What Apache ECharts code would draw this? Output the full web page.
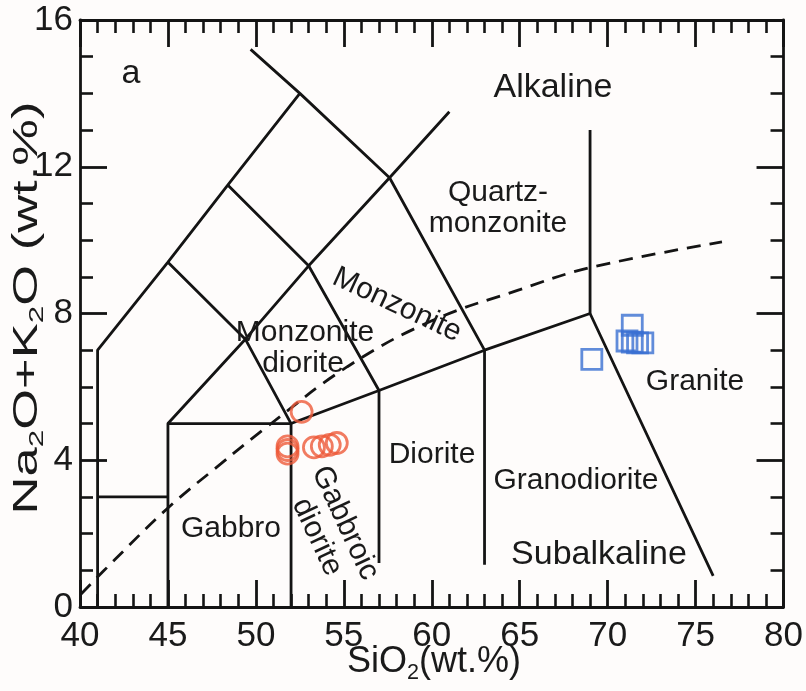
<!DOCTYPE html>
<html>
<head>
<meta charset="utf-8">
<script src="https://cdn.jsdelivr.net/npm/echarts@6/dist/echarts.min.js"></script>
<style>
  html, body { margin: 0; padding: 0; background: #fefcfb; }
  #chart { width: 806px; height: 691px; }
</style>
</head>
<body>
<div id="chart"></div>
<script>
// Axis ranges and ticks
const xRange = [40, 80];
const yRange = [0, 16];
const xStep = 5;
const yStep = 4;

// Field boundaries of the plutonic TAS diagram, as [SiO2, Na2O+K2O] polylines
const edgeFoid = [[41, 0], [41, 7], [45, 9.4], [48.4, 11.5], [52.5, 14]];
const edgeSyenite = [[49.7, 15.2], [52.5, 14], [57.6, 11.7], [63, 7], [63, 1.15]];
const edgeMonzo = [[45, 0], [45, 5], [49.4, 7.3], [53, 9.3], [57.6, 11.7], [61, 13.5]];
const edgeGabbroDiorite = [[45, 9.4], [49.4, 7.3], [52, 5], [52, 0]];
const edgeMonzodiorite = [[48.4, 11.5], [53, 9.3], [57, 5.9], [57, 1.2]];
const edgePeridot = [[41, 3], [45, 3]];
const edgeSubalkaline = [[45, 5], [52, 5], [57, 5.9], [63, 7], [69, 8], [76, 0.85]];
const edgeGranite = [[69, 8], [69, 13]];

// Alkaline / subalkaline divide
const alkalineDivide = [[40.05, 0.35], [42, 1.3], [45, 2.7], [48, 3.9], [50.6, 4.9],
  [55.2, 6.55], [60, 7.8], [65, 8.65], [69, 9.25], [76.5, 9.95]];

// Samples
const gabbroicSamples = [[52.6, 5.32], [51.8, 4.38], [51.8, 4.28], [51.8, 4.18],
  [53.3, 4.35], [53.75, 4.38], [54.2, 4.42], [54.6, 4.47]];
const graniteSamples = [[69.1, 6.75], [71.4, 7.68], [71.1, 7.25], [71.4, 7.22],
  [71.7, 7.2], [72.0, 7.2]];

const INK = '#141414';
const FONT = '"Liberation Sans", Arial, sans-serif';

const chart = echarts.init(document.getElementById('chart'));

function boundary(data, extra) {
  return Object.assign({
    type: 'line', data: data, symbol: 'none', showSymbol: false, silent: true,
    lineStyle: { color: INK, width: 2.8 }, z: 2
  }, extra || {});
}

function axis(pos, range, step, minorSplit, labels, margin) {
  return {
    type: 'value', position: pos, min: range[0], max: range[1], interval: step,
    axisLine: { show: true, onZero: false, lineStyle: { color: INK, width: 2.8 } },
    axisTick: { show: true, inside: true, length: 27, lineStyle: { color: INK, width: 2.8 } },
    minorTick: { show: true, splitNumber: minorSplit, length: 13, lineStyle: { color: INK, width: 2.6 } },
    splitLine: { show: false },
    minorSplitLine: { show: false },
    axisLabel: { show: labels, fontSize: 35, fontFamily: FONT, color: '#1a1a1a', margin: margin }
  };
}

function label(text, x, y, size, rot, sx) {
  return {
    type: 'text', x: x, y: y, rotation: (rot || 0) * Math.PI / 180, scaleX: sx || 1,
    style: { text: text, font: size + 'px ' + FONT, fill: '#1a1a1a', align: 'center', verticalAlign: 'middle' },
    z: 10
  };
}

function subText(text, x, y, size, rot, sx) {
  return {
    type: 'text', x: x, y: y, rotation: (rot || 0) * Math.PI / 180, scaleX: sx || 1,
    style: {
      text: text, align: 'center', verticalAlign: 'middle', fill: '#1a1a1a',
      font: size + 'px ' + FONT,
      rich: {
        a: { fontSize: size, fontFamily: FONT, fill: '#1a1a1a', lineHeight: size * 1.2 },
        s: { fontSize: size * 0.6, fontFamily: FONT, fill: '#1a1a1a', lineHeight: size * 0.7, verticalAlign: 'bottom' }
      }
    },
    z: 10
  };
}

chart.setOption({
  animation: false,
  backgroundColor: '#fefcfb',
  grid: { left: 80, right: 22, top: 20, bottom: 84, containLabel: false },
  xAxis: [
    axis('bottom', xRange, xStep, 5, true, 12),
    axis('top', xRange, xStep, 5, false, 8)
  ],
  yAxis: [
    axis('left', yRange, yStep, 4, true, 7),
    axis('right', yRange, yStep, 4, false, 8)
  ],
  series: [
    boundary(edgeFoid),
    boundary(edgeSyenite),
    boundary(edgeMonzo),
    boundary(edgeGabbroDiorite),
    boundary(edgeMonzodiorite),
    boundary(edgePeridot),
    boundary(edgeSubalkaline),
    boundary(edgeGranite),
    boundary(alkalineDivide, { smooth: 0.4, lineStyle: { color: INK, width: 2.8, type: [14, 9] } }),
    {
      type: 'scatter', data: gabbroicSamples, symbol: 'circle', symbolSize: 21, z: 5,
      itemStyle: { color: 'rgba(0,0,0,0)', borderColor: '#ee5a3a', borderWidth: 2.8 }
    },
    {
      type: 'scatter', data: graniteSamples, symbol: 'rect', symbolSize: 20, z: 5,
      itemStyle: { color: 'rgba(0,0,0,0)', borderColor: '#3a6fd2', borderWidth: 2.8 }
    }
  ],
  graphic: [
    label('a', 131, 74, 34),
    label('Alkaline', 553, 88, 34),
    label('Quartz-', 498, 193, 30),
    label('monzonite', 498, 224, 30),
    label('Monzonite', 397, 305, 30, -25),
    label('Monzonite', 305, 333, 30),
    label('diorite', 303, 364, 30),
    label('Diorite', 432, 455, 30),
    label('Granodiorite', 576, 481, 30),
    label('Granite', 695, 382, 30),
    label('Subalkaline', 599, 555, 34),
    label('Gabbro', 231, 529, 30),
    label('Gabbroic', 345, 523, 30, -65),
    label('diorite', 317, 537, 30, -65),
    subText('{a|SiO}{s|2}{a|(wt.%)}', 434, 662, 36),
    subText('{a|Na}{s|2}{a|O+K}{s|2}{a|O (wt.%)}', 27, 308, 35, 90, 1.5)
  ]
});
</script>
</body>
</html>
